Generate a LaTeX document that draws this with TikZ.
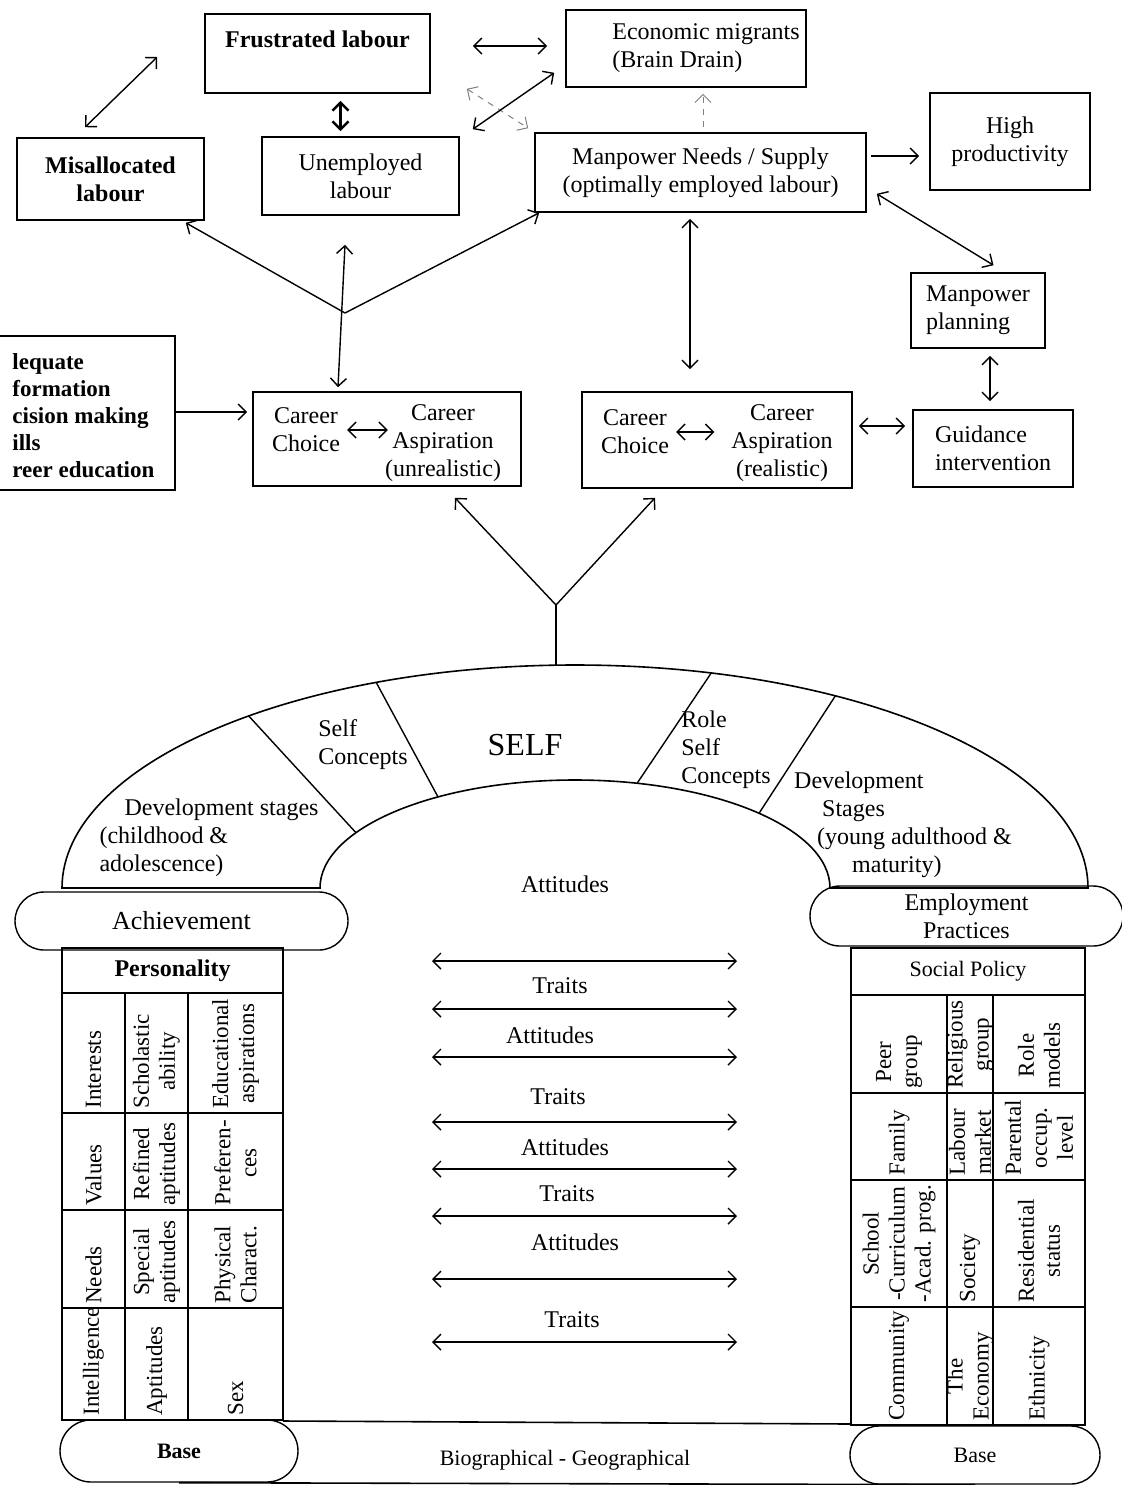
\documentclass[tikz,border=0pt]{standalone}
\usepackage{fontspec}
\setmainfont{Liberation Serif}
\usetikzlibrary{arrows.meta, calc}

\tikzset{
  box/.style={rectangle, draw=black, line width=0.8pt, align=center, inner sep=2pt},
  dbl/.style={<->, line width=0.7pt},
  sgl/.style={->, line width=0.7pt},
  faint/.style={gray, dashed, line width=0.5pt},
  capital/.style={draw, line width=0.7pt, align=center, inner sep=1pt},
  cell/.style={rotate=90, anchor=west, align=center, inner sep=0pt, font=\fontsize{11.5}{13}\selectfont},
  gridline/.style={line width=0.8pt},
}

\begin{document}
\begin{tikzpicture}[x=0.5pt, y=-0.5pt, >={Straight Barb[length=4pt,width=8pt]},
  font=\fontsize{12}{14}\selectfont, every node/.append style={align=center}]
\useasboundingbox (0,0) rectangle (1121,1485);

% labour market boxes
\node (frus) [box, minimum width=112.5pt, minimum height=39.5pt, font=\fontsize{12}{14}\selectfont\bfseries] at (317.5,53.5) {Frustrated labour\\\mbox{}};
\node (econ) [box, align=left, minimum width=120pt, minimum height=38.5pt] at (686,48.5) {\hspace*{20pt}Economic migrants\\\hspace*{20pt}(Brain Drain)};
\node (misalloc) [box, minimum width=93.5pt, minimum height=41pt, font=\fontsize{12}{14}\selectfont\bfseries] at (110.5,179) {Misallocated\\labour};
\node (unemp) [box, minimum width=98.5pt, minimum height=39pt] at (360.5,176) {Unemployed\\labour};
\node (manpow) [box, minimum width=165.5pt, minimum height=39.5pt] at (700.5,172.5) {Manpower Needs / Supply\\(optimally employed labour)};
\node (highprod) [box, minimum width=80pt, minimum height=48.5pt] at (1010,141.5) {High\\productivity};
\node (mplan) [box, align=left, minimum width=67pt, minimum height=37.5pt] at (978,310.5) {Manpower\\planning};
\node (guid) [box, align=left, minimum width=80pt, minimum height=38.5pt] at (993,448.5) {Guidance\\intervention};

% information box (cut at the page edge)
\node (inform) [box, minimum width=97.5pt, minimum height=77pt] at (77.5,413) {};
\node (informtxt) [anchor=west, align=left, inner sep=0pt, font=\fontsize{11.5}{13.5}\selectfont\bfseries] at (12,416) {lequate\\formation\\cision making\\ills\\reer education};

% career boxes
\node (career1) [box, minimum width=134pt, minimum height=47pt] at (387,439) {};
\node (choice1) at (306,430) {Career\\Choice};
\node (aspir1) at (443,443) {Career\\Aspiration\\(unrealistic)};
\node (career2) [box, minimum width=135pt, minimum height=48pt] at (717,440) {};
\node (choice2) at (635,432) {Career\\Choice};
\node (aspir2) at (782,443) {Career\\Aspiration\\(realistic)};

\draw [dbl, shorten >=-5pt] (choice1.east) -- (choice1.east -| aspir1.west);
\draw [dbl, shorten >=5pt] (choice2.east) -- (choice2.east -| aspir2.west);

% top connectors
\draw [dbl] ($(frus.east)+(42,-7.5)$) -- ($(econ.west)+(-18,-2.5)$);
\draw [<->, line width=1.3pt] ($(frus.south)+(23,7)$) -- ($(unemp.north)+(-20,-5)$);
\draw [dbl] ($(misalloc.north)+(-25.5,-10)$) -- ($(frus.west)+(-47,3.5)$);
\draw [dbl, faint] ($(frus.south east)+(36,-5)$) -- ($(manpow.north west)+(-6,-4)$);
\draw [dbl] ($(unemp.north east)+(13,-7)$) -- ($(econ.south west)+(-11,-15)$);
\draw [sgl, faint] ($(manpow.north)+(2.5,-5)$) -- ($(econ.south)+(17,6)$);
\draw [sgl] ($(manpow.east)+(4,-16.5)$) -- ($(highprod.west)+(-10,14.5)$);
\draw [dbl] ($(manpow.south east)+(10,-19)$) -- ($(mplan.north)+(15.5,-7)$);
\draw [dbl] ($(manpow.south)+(-10.5,6)$) -- ($(career2.north)+(-27,-22)$);
\draw [dbl] ($(mplan.south)+(12,7)$) -- ($(guid.north)+(-3,-8)$);
\draw [dbl] ($(career2.east)+(6,-14)$) -- ($(guid.west)+(-7,-22.5)$);
\draw [sgl] ($(inform.east)+(0,-1)$) -- ($(career1.west)+(-5,-27)$);

\coordinate (yfork) at (345,313);
\draw [sgl] (yfork) -- ($(misalloc.south east)+(-19,2)$);
\draw [sgl] (yfork) -- ($(manpow.south west)+(5,0)$);
\draw [dbl] ($(career1.north)+(-49,-4)$) -- ($(unemp.south)+(-15.5,29)$);

% arch
\coordinate (archc) at (575,888);
\draw [line width=0.8pt] (62,888) arc[start angle=180, end angle=360, x radius=513, y radius=223]
  -- (830,888) arc[start angle=0, end angle=-180, x radius=255, y radius=108] -- cycle;
\foreach \ao/\ai in {230.5/210.8, 247.2/237.5, 285.4/284.1, 300.5/316.2}
  \draw [line width=0.7pt] ($(archc)+(\ao:513 and 223)$) -- ($(archc)+(\ai:255 and 108)$);

\node (selfcon) [align=left] at (363,745) {Self\\Concepts};
\node (self) [font=\fontsize{16}{18}\selectfont] at (525,745) {SELF};
\node (roleself) [align=left] at (726,750) {Role\\Self\\Concepts};
\node (devleft) [align=left] at (209,838) {\hspace*{12.5pt}Development stages\\(childhood \&\\adolescence)};
\node (devright) [align=left] at (903,825) {Development\\\hspace*{14pt}Stages\\\hspace*{11.5pt}(young adulthood \&\\\hspace*{29pt}maturity)};

\coordinate (archtop) at (556,665);
\coordinate (archfork) at (556,605);
\draw [line width=0.7pt] (archtop) -- (archfork);
\draw [sgl] (archfork) -- ($(career1.south)+(68,11)$);
\draw [sgl] (archfork) -- ($(career2.south)+(-62,9)$);

% capitals
\node (achieve) [capital, rounded corners=14.5pt, minimum width=166.5pt, minimum height=29pt, font=\fontsize{13}{15}\selectfont] at (181.5,921) {Achievement};
\node (employ) [capital, rounded corners=15pt, minimum width=156.5pt, minimum height=30pt] at (966.5,916) {Employment\\Practices};
\node (attit) at (565,884) {Attitudes};

% left pillar
\node (persona) [box, minimum width=110.5pt, minimum height=22.5pt, font=\fontsize{12}{14}\selectfont\bfseries] at (172.5,970.5) {Personality};
\draw [gridline] (62,993) rectangle (283,1420);
\foreach \gx in {125,188} \draw [gridline] (\gx,993) -- (\gx,1420);
\foreach \gy in {1113,1210,1308} \draw [gridline] (62,\gy) -- (283,\gy);
\foreach \cx/\cy/\txt [count=\k] in {93.5/1113/Interests, 156.5/1113/{Scholastic\\ability}, 235.5/1113/{Educational\\aspirations},
    93.5/1210/Values, 156.5/1210/{Refined\\aptitudes}, 235.5/1210/{Preferen-\\ces},
    93.5/1308/Needs, 156.5/1308/{Special\\aptitudes}, 235.5/1308/{Physical\\Charact.},
    93.5/1420/Intelligence, 156.5/1420/Aptitudes, 235.5/1420/Sex}
  \node (lcell\k) [cell] at (\cx,\cy-4) {\txt};

% right pillar
\node (socpol) [box, minimum width=117pt, minimum height=23.5pt, font=\fontsize{11}{13}\selectfont] at (968,971.5) {Social Policy};
\draw [gridline] (851,995) rectangle (1085,1425);
\foreach \gx in {947,993} \draw [gridline] (\gx,995) -- (\gx,1425);
\foreach \gy in {1093,1180,1307} \draw [gridline] (851,\gy) -- (1085,\gy);
\foreach \cx/\cy/\txt [count=\k] in {899/1093/{Peer\\group}, 970/1093/{Religious\\group}, 1039/1093/{Role\\models},
    899/1180/Family, 970/1180/{Labour\\market}, 1039/1180/{Parental\\occup.\\level},
    899/1307/{School\\-Curriculum\\-Acad. prog.}, 970/1307/Society, 1039/1307/{Residential\\status},
    899/1425/Community, 970/1425/{The\\Economy}, 1039/1425/Ethnicity}
  \node (rcell\k) [cell] at (\cx,\cy-4) {\txt};

% traits and attitudes
\foreach \i/\y in {1/961,2/1009,3/1057,4/1122,5/1169,6/1216,7/1279,8/1342} {
  \coordinate (tl\i) at (432,\y);
  \coordinate (tr\i) at (737,\y);
  \draw [dbl] (tl\i) -- (tr\i);
}
\foreach \lx/\ly/\txt [count=\k] in {560/986/Traits, 550/1035/Attitudes, 558/1097/Traits, 565/1147/Attitudes,
    567/1194/Traits, 575/1242/Attitudes, 572/1320/Traits}
  \node (mid\k) at (\lx,\ly) {\txt};

% base
\node (base1) [capital, rounded corners=15.5pt, minimum width=119pt, minimum height=31pt, font=\fontsize{11}{13}\selectfont\bfseries] at (179,1451) {Base};
\node (base2) [capital, rounded corners=14.5pt, minimum width=125pt, minimum height=29pt, font=\fontsize{11}{13}\selectfont] at (975,1455) {Base};
\draw [gridline] (283,1421) -- (851,1424);
\draw [gridline] (base1.south) -- (base2.south);
\node (biogeo) [font=\fontsize{11}{13}\selectfont] at (565,1460) {Biographical - Geographical};

\end{tikzpicture}
\end{document}
